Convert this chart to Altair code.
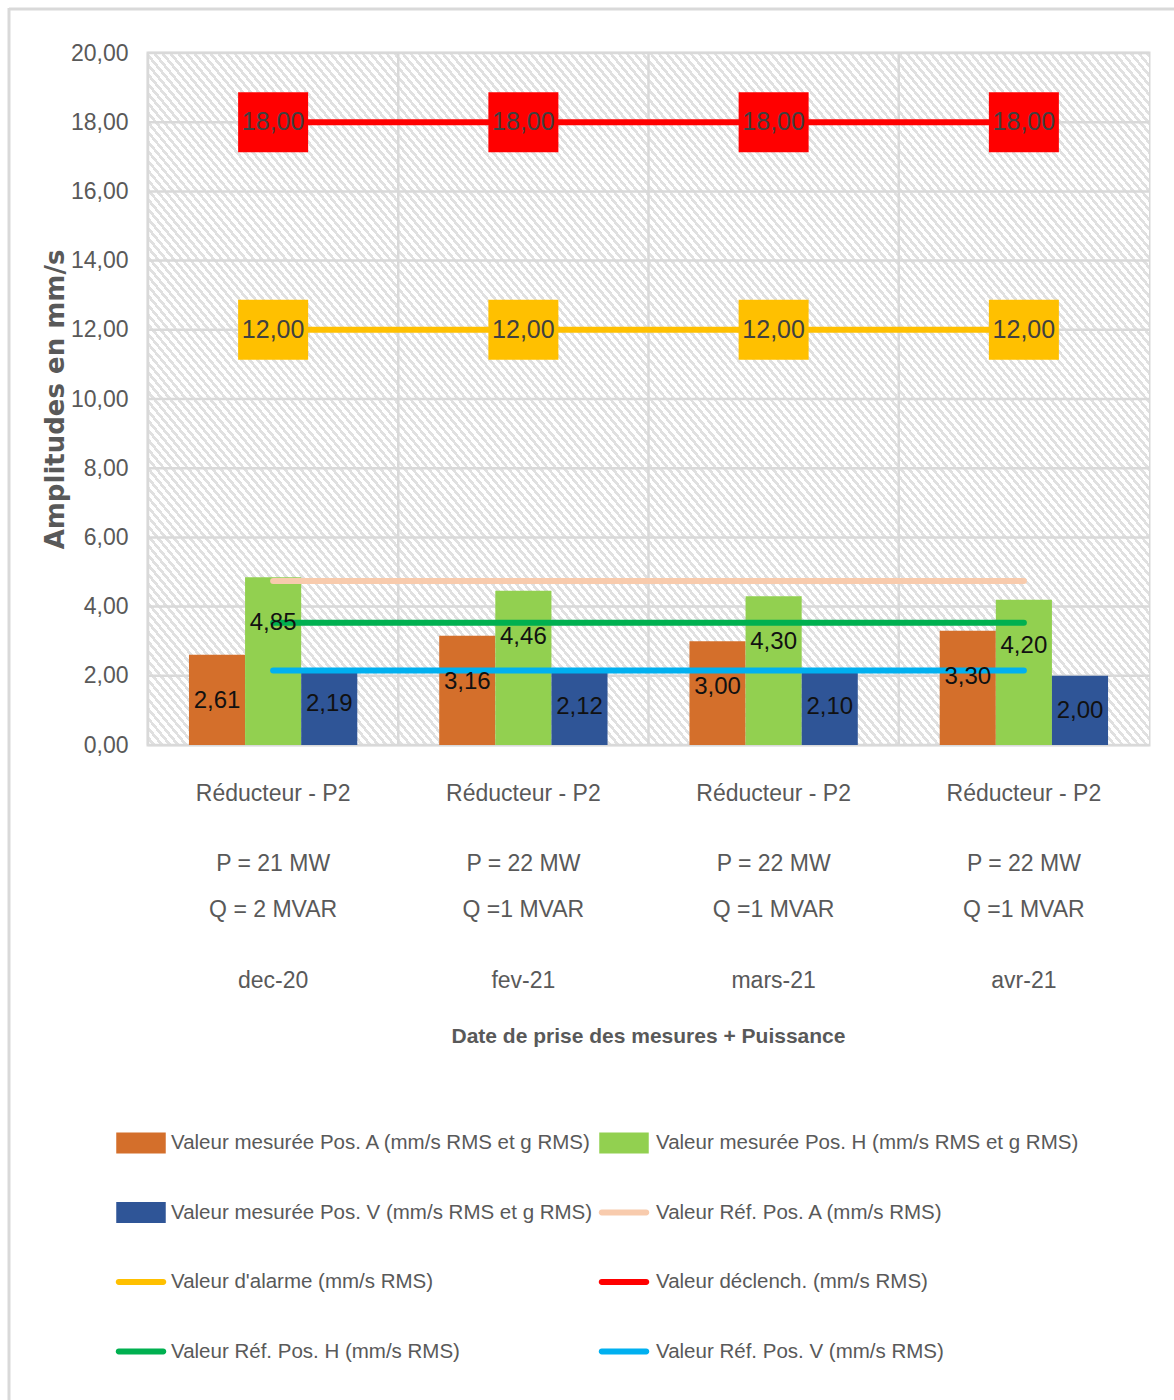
import altair as alt
import pandas as pd

# ---------------------------------------------------------------- data
EQUIPEMENT = ["Réducteur - P2", "Réducteur - P2", "Réducteur - P2", "Réducteur - P2"]
PUISSANCE_P = ["P = 21 MW", "P = 22 MW", "P = 22 MW", "P = 22 MW"]
PUISSANCE_Q = ["Q = 2 MVAR", "Q =1 MVAR", "Q =1 MVAR", "Q =1 MVAR"]
DATES = ["dec-20", "fev-21", "mars-21", "avr-21"]

MESURE_A = [2.61, 3.16, 3.00, 3.30]
MESURE_H = [4.85, 4.46, 4.30, 4.20]
MESURE_V = [2.19, 2.12, 2.10, 2.00]

REF_A = [4.74, 4.74, 4.74, 4.74]
ALARME = [12.00, 12.00, 12.00, 12.00]
DECLENCH = [18.00, 18.00, 18.00, 18.00]
REF_H = [3.53, 3.53, 3.53, 3.53]
REF_V = [2.15, 2.15, 2.15, 2.15]

SERIES = [
    "Valeur mesurée Pos. A (mm/s RMS et g RMS)",
    "Valeur mesurée Pos. H (mm/s RMS et g RMS)",
    "Valeur mesurée Pos. V (mm/s RMS et g RMS)",
    "Valeur Réf. Pos. A (mm/s RMS)",
    "Valeur d'alarme (mm/s RMS)",
    "Valeur déclench. (mm/s RMS)",
    "Valeur Réf. Pos. H (mm/s RMS)",
    "Valeur Réf. Pos. V (mm/s RMS)",
]
COULEURS = ["#D46F2B", "#92D050", "#2F5597", "#F8CBAD",
            "#FFC000", "#FF0000", "#00B050", "#00B0F0"]
TYPES = ["barre", "barre", "barre", "trait", "trait", "trait", "trait", "trait"]

Y_TICKS = [0, 2, 4, 6, 8, 10, 12, 14, 16, 18, 20]
X_TITLE = "Date de prise des mesures + Puissance"
Y_TITLE = "Amplitudes en mm/s"

# ---------------------------------------------------------------- tables
bar_values = [MESURE_A, MESURE_H, MESURE_V]
line_values = [REF_A, ALARME, DECLENCH, REF_H, REF_V]

bars = pd.DataFrame([
    {"cat": c, "serie": SERIES[s], "val": vals[i]}
    for s, vals in enumerate(bar_values) for i, c in enumerate(DATES)
])
lines = pd.DataFrame([
    {"cat": c, "serie": SERIES[3 + s], "val": vals[i]}
    for s, vals in enumerate(line_values) for i, c in enumerate(DATES)
])
cats = pd.DataFrame({"cat": DATES, "equip": EQUIPEMENT, "p": PUISSANCE_P,
                     "q": PUISSANCE_Q, "date": DATES})
grid_y = pd.DataFrame({"val": Y_TICKS})
one = pd.DataFrame({"k": [0]})

W, H = 1001, 692
FONT = "Liberation Sans, Arial, sans-serif"
GREY_TXT = "#595959"
GRID = "#d9d9d9"

comma2 = "replace(format(datum.val, '.2f'), '.', ',')"

# diagonal hatch of the plotting area, built as a striped linear gradient
N_STRIPES = 197
stops = []
for i in range(N_STRIPES):
    a = round(i / N_STRIPES, 6)
    b = round((i + 0.55) / N_STRIPES, 6)
    c = round((i + 1) / N_STRIPES, 6)
    stops += [
        {"offset": a, "color": "#ffffff"},
        {"offset": b, "color": "#ffffff"},
        {"offset": b, "color": "#e0e0e0"},
        {"offset": c, "color": "#e0e0e0"},
    ]
stops[-1]["offset"] = 1.0
hatch_fill = {"gradient": "linear", "x1": 0, "y1": 1, "x2": 1.183, "y2": 0.319,
              "stops": stops}

# ---------------------------------------------------------------- encodings
x_cat = alt.X("cat:N", sort=DATES, scale=alt.Scale(paddingInner=0, paddingOuter=0),
              axis=None)
y_val = alt.Y(
    "val:Q",
    scale=alt.Scale(domain=[0, 20], nice=False),
    title=Y_TITLE,
    axis=alt.Axis(
        values=Y_TICKS,
        labelExpr="replace(format(datum.value, '.2f'), '.', ',')",
        labelFont=FONT, labelFontSize=23, labelColor=GREY_TXT, labelPadding=20,
        ticks=False, domain=False, grid=False,
        titleFont="DejaVu Sans", titleFontSize=26, titleFontWeight="bold",
        titleColor=GREY_TXT, titleX=-93, titleY=H / 2, titleAngle=270,
        titleAlign="center", titleBaseline="middle",
    ),
)
col = alt.Color("serie:N", scale=alt.Scale(domain=SERIES, range=COULEURS), legend=None)
x_off = alt.XOffset("serie:N", sort=SERIES[:3],
                    scale=alt.Scale(paddingInner=0, paddingOuter=0.73))

# ---------------------------------------------------------------- layers
hatch = alt.Chart(one).mark_rect(fill=hatch_fill).encode(
    x=alt.value(0), x2=alt.value(W), y=alt.value(0), y2=alt.value(H)
)
hgrid = alt.Chart(grid_y).mark_rule(color=GRID, strokeWidth=2.5).encode(
    y=y_val, x=alt.value(0), x2=alt.value(W)
)
vgrid = alt.Chart(cats).mark_rule(color=GRID, strokeWidth=2.5).encode(
    x=alt.X("cat:N", sort=DATES, bandPosition=0, axis=None), y=alt.value(0), y2=alt.value(H)
)

bar_layer = alt.Chart(bars).mark_bar().encode(x=x_cat, xOffset=x_off, y=y_val, color=col)

bar_text = []
for name, dy in [(SERIES[0], 46), (SERIES[1], 46), (SERIES[2], 35)]:
    bar_text.append(
        alt.Chart(bars).transform_filter(alt.datum.serie == name)
        .transform_calculate(lbl=comma2)
        .mark_text(font=FONT, fontSize=24, color="#111111", baseline="middle", dy=dy)
        .encode(x=x_cat, xOffset=x_off, y=y_val, text="lbl:N")
    )

ref_lines = alt.Chart(lines).mark_line(strokeWidth=6, strokeCap="round").encode(
    x=x_cat, y=y_val, color=col, detail="serie:N"
)

limits = lines[lines["serie"].isin([SERIES[4], SERIES[5]])]
BOX = "M-1,-0.857H1V0.857H-1Z"
boxes = alt.Chart(limits).mark_point(
    shape=BOX, size=4900, filled=True, opacity=1, strokeWidth=0
).encode(x=x_cat, y=y_val, color=col)
box_text = alt.Chart(limits).transform_calculate(lbl=comma2).mark_text(
    font=FONT, fontSize=25, color="#404040", baseline="middle"
).encode(x=x_cat, y=y_val, text="lbl:N")

# category labels under the plot, one text row per line of the label
cat_rows = []
for field, dy in [("equip", 741), ("p", 811), ("q", 857), ("date", 928)]:
    cat_rows.append(
        alt.Chart(cats).mark_text(font=FONT, fontSize=23, color=GREY_TXT, baseline="middle")
        .encode(x=x_cat, y=alt.value(dy), text=f"{field}:N")
    )

x_title = alt.Chart(one).mark_text(
    text=X_TITLE, font=FONT, fontSize=21, fontWeight="bold", color=GREY_TXT,
    baseline="middle"
).encode(x=alt.value(W / 2), y=alt.value(984))

main = alt.layer(hatch, hgrid, vgrid, bar_layer, ref_lines, boxes, box_text,
                 *bar_text, *cat_rows, x_title)

# ---------------------------------------------------------------- legend
leg = pd.DataFrame({"serie": SERIES, "kind": TYPES})
leg["i"] = range(len(leg))
leg["sx"] = -7 + (leg["i"] % 2) * 483
leg["tx"] = 23 + (leg["i"] % 2) * 485
leg["sy"] = 1090 + (leg["i"] // 2) * 69.5

RECT = "M-1,-0.42H1V0.42H-1Z"
STROKE = "M-0.9,-0.12H0.9A0.12,0.12 0 0 1 0.9,0.12H-0.9A0.12,0.12 0 0 1 -0.9,-0.12Z"
leg_sym = alt.Chart(leg).mark_point(filled=True, opacity=1, strokeWidth=0, size=2450).encode(
    x=alt.X("sx:Q", scale=None, axis=None),
    y=alt.Y("sy:Q", scale=None, axis=None),
    shape=alt.Shape("kind:N", scale=alt.Scale(domain=["barre", "trait"], range=[RECT, STROKE]),
                    legend=None),
    color=col,
)
leg_txt = alt.Chart(leg).mark_text(
    align="left", baseline="middle", font=FONT, fontSize=20.5, color=GREY_TXT
).encode(
    x=alt.X("tx:Q", scale=None, axis=None),
    y=alt.Y("sy:Q", scale=None, axis=None),
    text="serie:N",
)

# outer frame of the figure (top and left edges)
frame_top = alt.Chart(one).mark_rule(color=GRID, strokeWidth=3).encode(
    x=alt.value(-139), x2=alt.value(1030), y=alt.value(-44)
)
frame_left = alt.Chart(one).mark_rule(color=GRID, strokeWidth=3).encode(
    x=alt.value(-139), y=alt.value(-45), y2=alt.value(1350)
)

legend = alt.layer(frame_top, frame_left, leg_sym, leg_txt)

chart = (
    alt.layer(main, legend)
    .resolve_scale(x="independent", y="independent")
    .properties(
        width=W, height=H, autosize="none",
        padding={"left": 148, "top": 53, "right": 25, "bottom": 655},
        background="white",
    )
    .configure_view(stroke=GRID, strokeWidth=3)
)

chart.save("out.html", embed_options={"renderer": "svg", "actions": False})
